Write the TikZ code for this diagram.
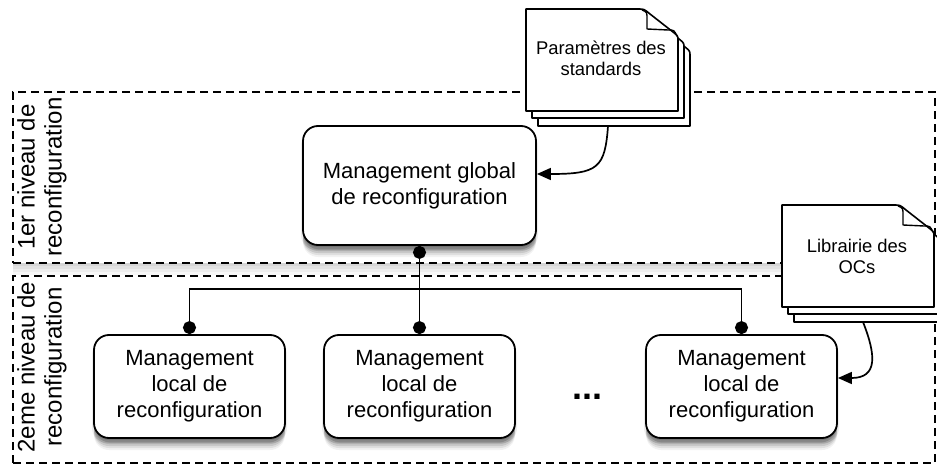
\documentclass[tikz,border=0pt]{standalone}
\usepackage{fontspec}
\setmainfont{Liberation Sans}
\usetikzlibrary{arrows.meta}

\tikzset{
  pagestyle/.style={draw, fill=white, line width=1.6pt, line join=round},
  pics/docpage/.style={code={
    \draw[pagestyle] (0,0) -- (112,0) .. controls (118,0) .. (124,5) -- (147,23) .. controls (152,27) .. (152,32) -- (152,102) -- (0,102) -- cycle;
  }},
  pics/docfold/.style={code={
    \draw[line width=1.4pt, line join=round] (116,1) .. controls (121,3) .. (121,10) -- (121,20) -- (142,21) .. controls (148,21) .. (151,27);
  }},
  softshadow/.style={
    preaction={draw=none, fill=black, fill opacity=0.12, transform canvas={yshift=-2pt}},
    preaction={draw=none, fill=black, fill opacity=0.12, transform canvas={yshift=-4pt}},
    preaction={draw=none, fill=black, fill opacity=0.11, transform canvas={yshift=-6pt}},
    preaction={draw=none, fill=black, fill opacity=0.10, transform canvas={yshift=-8pt}},
    preaction={draw=none, fill=black, fill opacity=0.08, transform canvas={yshift=-10pt}},
    preaction={draw=none, fill=black, fill opacity=0.05, transform canvas={yshift=-12pt}},
    preaction={draw=none, fill=black, fill opacity=0.07, transform canvas={xshift=-2pt,yshift=-5pt}},
    preaction={draw=none, fill=black, fill opacity=0.07, transform canvas={xshift=2pt,yshift=-5pt}},
  },
  lightshadow/.style={
    preaction={draw=none, fill=black, fill opacity=0.05, transform canvas={yshift=-3pt}},
    preaction={draw=none, fill=black, fill opacity=0.05, transform canvas={yshift=-6pt}},
    preaction={draw=none, fill=black, fill opacity=0.04, transform canvas={yshift=-9pt}},
    preaction={draw=none, fill=black, fill opacity=0.03, transform canvas={yshift=-12pt}},
  },
}

\begin{document}
\begin{tikzpicture}[x=1pt,y=-1pt,
  box/.style={softshadow, draw, line width=1.8pt, rounded corners=15pt, fill=white, align=center,
    font=\fontsize{22}{26}\selectfont, inner sep=0pt},
  level/.style={draw, dash pattern=on 8pt off 5pt, line width=1.4pt, inner sep=0pt},
  lvllabel/.style={rotate=90, align=center, font=\fontsize{24}{27}\selectfont},
  doctext/.style={align=center, font=\fontsize{18.4}{21}\selectfont},
  dot/.style={line width=1.7pt, {Circle[length=13pt,width=13pt]}-{Circle[length=13pt,width=13pt]}},
  feed/.style={line width=1.7pt, -{Triangle[length=14pt,width=12pt]}},
]
\useasboundingbox (0,0) rectangle (937,465);

% level frames
\node[lightshadow, level, fill=white, minimum width=922pt, minimum height=171pt] (lvl1) at (474,177.5) {};
\node[level, minimum width=922pt, minimum height=187pt] (lvl2) at (474,369.5) {};
\node[lvllabel] (lab1) at (42,177) {1er niveau de\\reconfiguration};
\node[lvllabel] (lab2) at (42,367) {2eme niveau de\\reconfiguration};

% management boxes
\node[box, minimum width=233pt, minimum height=119pt] (global) at (419.5,185.5) {Management global\\de reconfiguration};
\node[box, minimum width=191pt, minimum height=103pt] (l1) at (189.5,386.5) {Management\\local de\\reconfiguration};
\node[box, minimum width=191pt, minimum height=103pt] (l2) at (419.5,386.5) {Management\\local de\\reconfiguration};
\node[box, minimum width=191pt, minimum height=103pt] (l3) at (741.5,386.5) {Management\\local de\\reconfiguration};
\node[font=\fontsize{36}{36}\selectfont\bfseries, anchor=base] (etc) at (587,399) {...};

% connectors
\coordinate (bus) at (419.5,289);
\draw[dot] (global.south) -- (l2.north);
\draw[dot] (l1.north) |- (bus) -| (l3.north);

% document stacks
\pic at (538,24) {docpage};
\pic at (532,16) {docpage};
\pic at (526,9) {docpage};
\pic at (526,9) {docfold};
\node[doctext] (params) at (601,58) {Paramètres des\\standards};

\pic at (794,220) {docpage};
\pic at (788,212) {docpage};
\pic at (782,205) {docpage};
\pic at (782,205) {docfold};
\node[doctext] (lib) at (857,256) {Librairie des\\OCs};

% feed arrows
\coordinate (paramsOut) at (608,126);
\coordinate (libOut) at (863,322);
\draw[feed] (paramsOut) .. controls (605,168) and (598,174) .. ([yshift=11.5pt]global.east);
\draw[feed] (libOut) .. controls (876,355) and (878,378) .. ([yshift=8.5pt]l3.east);
\end{tikzpicture}
\end{document}
